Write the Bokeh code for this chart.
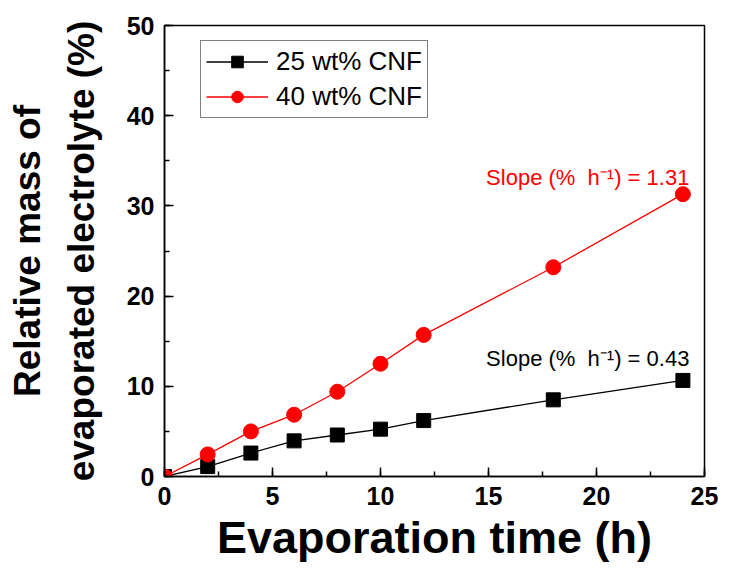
from bokeh.plotting import figure
from bokeh.models import (Range1d, LinearAxis, SingleIntervalTicker, FixedTicker,
                          Legend, LegendItem, Label)
from bokeh.embed import file_html
from bokeh.resources import INLINE

# ---- data ----
time_h = [0, 2, 4, 6, 8, 10, 12, 18, 24]
cnf25 = [0, 1.1, 2.6, 3.95, 4.6, 5.25, 6.2, 8.5, 10.65]
cnf40 = [0, 2.45, 5.0, 6.85, 9.4, 12.5, 15.7, 23.2, 31.3]
series_names = ["25 wt% CNF", "40 wt% CNF"]
slope_texts = ["Slope (%\u00a0\u00a0h\u207b\u00b9) = 0.43", "Slope (%\u00a0\u00a0h\u207b\u00b9) = 1.31"]
x_ticks_interval = 5
y_ticks_interval = 10

FONT = "Liberation Sans"
RED = "#ff0000"

p = figure(frame_width=540, frame_height=451, output_backend="svg", toolbar_location=None,
           x_range=Range1d(0, 25), y_range=Range1d(0, 50),
           min_border_left=164, min_border_right=14, min_border_top=25,
           min_border_bottom=93)
p.grid.visible = False
p.outline_line_color = "black"
p.outline_line_width = 1.5
p.background_fill_color = "white"
p.border_fill_color = "white"

p.xaxis.ticker = SingleIntervalTicker(interval=x_ticks_interval, num_minor_ticks=2)
p.yaxis.ticker = SingleIntervalTicker(interval=y_ticks_interval, num_minor_ticks=2)

for ax in (p.xaxis[0], p.yaxis[0]):
    ax.axis_line_width = 1.5
    ax.axis_line_color = "black"
    ax.major_tick_line_width = 1.5
    ax.minor_tick_line_width = 1.5
    ax.major_tick_in = 9
    ax.major_tick_out = 0
    ax.minor_tick_in = 5
    ax.minor_tick_out = 0
    ax.major_label_text_font = FONT
    ax.major_label_text_font_style = "bold"
    ax.major_label_text_font_size = "25px"
    ax.major_label_text_color = "black"
    ax.axis_label_text_font = FONT
    ax.axis_label_text_font_style = "bold"
    ax.axis_label_text_color = "black"

p.xaxis.major_label_standoff = 10
p.xaxis.axis_label = "Evaporation time (h)"
p.xaxis.axis_label_text_font_size = "45px"
p.xaxis.axis_label_standoff = 4

p.yaxis.major_label_standoff = 10
p.yaxis.axis_label = "evaporated electrolyte (%)"
p.yaxis.axis_label_text_font_size = "37px"
p.yaxis.axis_label_standoff = 22

extra = LinearAxis(ticker=FixedTicker(ticks=[]), axis_line_color=None,
                   major_tick_line_color=None, minor_tick_line_color=None,
                   axis_label="Relative mass of", axis_label_text_font=FONT,
                   axis_label_text_font_style="bold", axis_label_text_font_size="37px",
                   axis_label_text_color="black", axis_label_standoff=10)
p.add_layout(extra, "left")

l1 = p.line(time_h, cnf25, line_color="black", line_width=1.3)
m1 = p.scatter(time_h, cnf25, marker="square", size=14, fill_color="black", line_color="black")
l2 = p.line(time_h, cnf40, line_color=RED, line_width=1.3)
m2 = p.scatter(time_h, cnf40, marker="circle", size=15, fill_color=RED, line_color=RED)

legend = Legend(items=[LegendItem(label=series_names[0], renderers=[l1, m1]),
                       LegendItem(label=series_names[1], renderers=[l2, m2])],
                location=(36, 358), orientation="vertical")
legend.label_text_font = FONT
legend.label_text_font_size = "26px"
legend.label_text_color = "black"
legend.glyph_width = 62
legend.glyph_height = 29
legend.label_standoff = 8
legend.spacing = 4
legend.padding = 5
legend.margin = 0
legend.border_line_color = "black"
legend.border_line_width = 1.2
legend.background_fill_alpha = 1
p.add_layout(legend, "center")

for txt, ypos, col in ((slope_texts[0], 13.1, "black"), (slope_texts[1], 33.15, RED)):
    p.add_layout(Label(x=24.3, y=ypos, text=txt, text_align="right",
                       text_baseline="middle", text_font=FONT, text_font_size="22px",
                       text_color=col))

open("out.html", "w").write(file_html(p, INLINE))
